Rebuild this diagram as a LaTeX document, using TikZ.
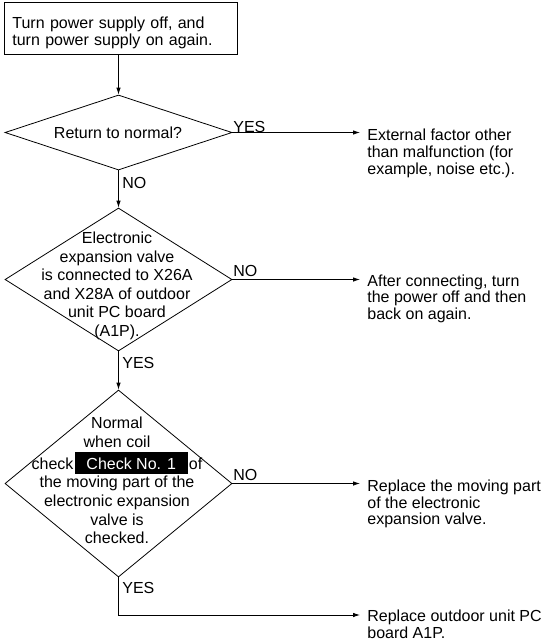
\documentclass[tikz,border=0pt]{standalone}
\usepackage{fontspec}
\setmainfont{Liberation Sans}
\usetikzlibrary{shapes.geometric,arrows.meta}
\begin{document}
\begin{tikzpicture}[x=1pt,y=-1pt,
  line width=0.8pt,
  arr/.style={-{Latex[length=7pt,width=4.5pt]}},
  dia/.style={draw,diamond,inner sep=0pt,minimum width=227pt},
  dtext/.style={inner sep=0pt,align=center,font=\fontsize{16}{18.6}\selectfont},
  rtext/.style={inner sep=0pt,anchor=north west,align=left,font=\fontsize{16}{16.7}\selectfont},
  lab/.style={inner sep=0pt,anchor=base west,font=\fontsize{16}{16.7}\selectfont}]
\useasboundingbox (0,0) rectangle (542,641);
\fill[white] (0,0) rectangle (542,641);

% start box
\node[draw,anchor=north west,inner xsep=8pt,inner ysep=0pt,text width=217pt,align=left,
      font=\fontsize{16}{16.7}\selectfont] (start) at (4,2)
  {\rule{0pt}{26.3pt}Turn power supply off, and\\turn power supply on again.\rule[-9pt]{0pt}{9pt}};

% diamonds
\node[dia,minimum height=75pt] (d1) at (118.5,132.5) {};
\node[dtext,anchor=base] (t1) at (118,138.3) {Return to normal?};

\node[dia,minimum height=143pt] (d2) at (118.5,279.5) {};
\node[dtext,anchor=north] (t2) at (117,231.5) {Electronic\\expansion valve\\is connected to X26A\\and X28A of outdoor\\unit PC board\\(A1P).};

\node[dia,minimum height=187pt] (d3) at (118.5,483.5) {};
\node[dtext,anchor=north] (t3) at (117,416.5) {Normal\\when coil\\[3.5pt]check\hspace{2pt}{\setlength{\fboxsep}{0pt}\colorbox{black}{\rule[-5pt]{0pt}{22pt}\hspace{11pt}\textcolor{white}{Check No. 1}\hspace{12pt}}}\hspace{1pt}of\\the moving part of the\\electronic expansion\\valve is\\checked.};

% result texts
\node[rtext] (r1) at (367,129) {External factor other\\than malfunction (for\\example, noise etc.).};
\node[rtext] (r2) at (367,274.3) {After connecting, turn\\the power off and then\\back on again.};
\node[rtext] (r3) at (367,479.3) {Replace the moving part\\of the electronic\\expansion valve.};
\node[rtext] (r4) at (367,609.3) {Replace outdoor unit PC\\board A1P.};

% connectors
\draw[arr] (start.south -| d1.north) -- (d1.north);
\draw[arr] (d1.south) -- (d2.north);
\draw[arr] (d2.south) -- (d3.north);
\draw[arr,shorten >=7pt] (d1.east) -- (d1.east -| r1.west);
\draw[arr,shorten >=7pt] (d2.east) -- (d2.east -| r2.west);
\draw[arr,shorten >=7pt] (d3.east) -- (d3.east -| r3.west);
\coordinate (e4) at (367,615);
\draw[arr,shorten >=7pt] (d3.south) |- (e4);

% labels
\node[lab] (y1) at (233,132) {YES};
\node[lab] (n1) at (122,188) {NO};
\node[lab] (n2) at (233,276) {NO};
\node[lab] (y2) at (122,368) {YES};
\node[lab] (n3) at (233,480) {NO};
\node[lab] (y3) at (122,593) {YES};
\end{tikzpicture}
\end{document}
